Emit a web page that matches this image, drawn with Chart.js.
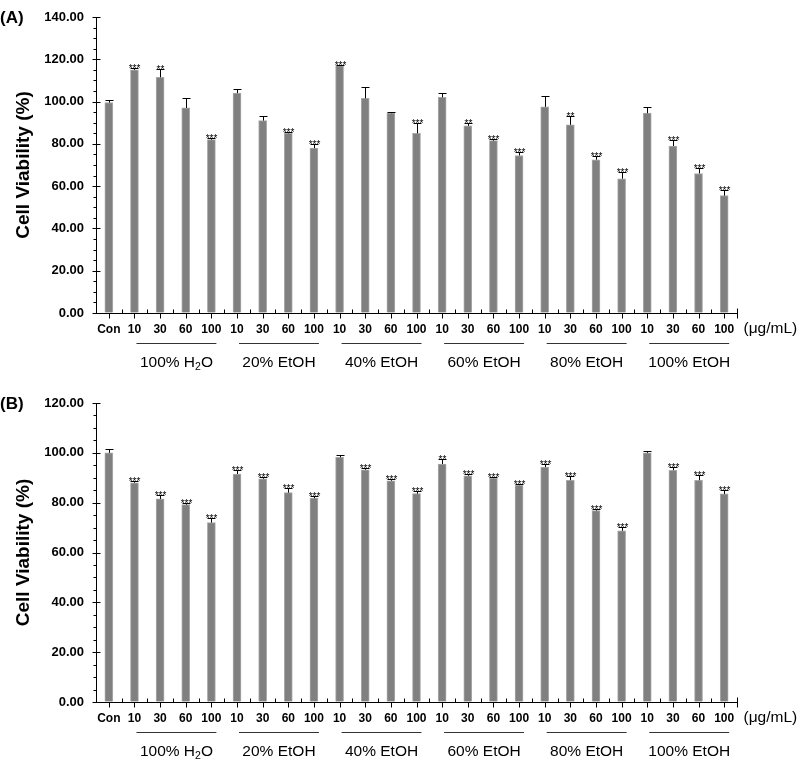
<!DOCTYPE html>
<html>
<head>
<meta charset="utf-8">
<script src="https://cdn.jsdelivr.net/npm/chart.js@4.4.1/dist/chart.umd.min.js"></script>
<style>
  html, body { margin: 0; padding: 0; background: #fff; }
  #wrap { position: relative; width: 800px; height: 764px; }
  canvas { position: absolute; left: 0; }
  #cA { top: 0; }
  #cB { top: 390px; }
</style>
</head>
<body>
<div id="wrap">
  <canvas id="cA" width="800" height="390"></canvas>
  <canvas id="cB" width="800" height="374"></canvas>
</div>
<script>
// ---------------- DATA ----------------
const doseLabels = ["Con",
  "10","30","60","100",
  "10","30","60","100",
  "10","30","60","100",
  "10","30","60","100",
  "10","30","60","100",
  "10","30","60","100"];
const groupNames = ["100% H2O", "20% EtOH", "40% EtOH", "60% EtOH", "80% EtOH", "100% EtOH"];
const groupStart = [1, 5, 9, 13, 17, 21];   // first category index of each group
const groupSize = 4;
const unitLabel = "(\u03BCg/mL)";

const valuesA = [99.5,
  115, 111.5, 97, 82,
  104, 91, 85, 78,
  117, 101.5, 94.5, 85,
  102, 88.5, 81.5, 74.5,
  97.5, 89, 72.5, 63.5,
  94.5, 79, 66, 55.5];
const errA = [1.2,
  1, 4, 4.5, 1,
  2, 2, 0.7, 2,
  0.3, 5.5, 0.8, 5,
  2, 1.5, 1, 1.5,
  5, 4, 1.7, 3,
  3, 3, 2.5, 2.5];
const sigA = ["",
  "***", "**", "", "***",
  "", "", "***", "***",
  "***", "", "", "***",
  "", "**", "***", "***",
  "", "**", "***", "***",
  "", "***", "***", "***"];

const valuesB = [100,
  88, 81.5, 79.2, 72,
  91.5, 89.6, 84, 81.8,
  98.2, 93.2, 88.8, 83.6,
  95.5, 90.8, 89.8, 87,
  94.3, 89, 76.8, 68.7,
  100, 93, 89, 83.5];
const errB = [1.6,
  0.6, 1.6, 0.7, 1.8,
  1.6, 0.6, 2, 0.8,
  1, 0.9, 0.5, 1,
  2, 0.8, 0.5, 0.3,
  1.3, 1.8, 0.7, 1.5,
  0.6, 1.5, 2, 1.5];
const sigB = ["",
  "***", "***", "***", "***",
  "***", "***", "***", "***",
  "", "***", "***", "***",
  "**", "***", "***", "***",
  "***", "***", "***", "***",
  "", "***", "***", "***"];

const yMaxA = 140, yMaxB = 120, yStep = 20, yMinorStep = 5;

// ---------------- DRAWING ----------------
const FONT = "'Liberation Sans', Arial, sans-serif";

function annotPlugin(errs, sigs, yMinor, panelLabel) {
  return {
    id: 'annot',
    afterDatasetsDraw(chart) {
      const ctx = chart.ctx;
      const y = chart.scales.y;
      const meta = chart.getDatasetMeta(0);
      const vals = chart.data.datasets[0].data;
      ctx.save();
      ctx.strokeStyle = '#000';
      ctx.fillStyle = '#000';
      ctx.lineWidth = 1;
      meta.data.forEach((bar, i) => {
        const bx = Math.round(bar.x) + 0.5;
        const top = y.getPixelForValue(vals[i]);
        const cap = Math.round(y.getPixelForValue(vals[i] + errs[i])) + 0.5;
        ctx.beginPath();
        ctx.moveTo(bx, top);
        ctx.lineTo(bx, cap);
        ctx.moveTo(bx - 4, cap);
        ctx.lineTo(bx + 4, cap);
        ctx.stroke();
        if (sigs[i]) {
          ctx.font = '10px ' + FONT;
          ctx.textAlign = 'center';
          ctx.textBaseline = 'alphabetic';
          ctx.fillText(sigs[i], bx, cap + 3);
        }
      });
      ctx.restore();
    },
    afterDraw(chart) {
      const ctx = chart.ctx;
      const x = chart.scales.x, y = chart.scales.y;
      const area = chart.chartArea;
      const L = Math.round(area.left) + 0.5;
      const B = Math.round(area.bottom) + 0.5;
      const T = Math.round(area.top);
      const R = Math.round(area.right) + 0.5;
      ctx.save();
      ctx.strokeStyle = '#000';
      ctx.lineWidth = 1;
      ctx.beginPath();
      ctx.moveTo(L, T);
      ctx.lineTo(L, B);
      ctx.moveTo(L, B);
      ctx.lineTo(R, B);
      for (let v = 0; v <= y.max + 0.001; v += yMinor) {
        const py = Math.round(y.getPixelForValue(v)) + 0.5;
        if (Math.abs(v % yStep) < 0.001) {
          ctx.moveTo(L - 4, py); ctx.lineTo(L + 4, py);
        } else {
          ctx.moveTo(L - 3, py); ctx.lineTo(L, py);
        }
      }
      const n = chart.data.labels.length;
      for (let i = 0; i < n; i++) {
        const px = Math.round(x.getPixelForValue(i)) + 0.5;
        ctx.moveTo(px, B); ctx.lineTo(px, B + 5);
        if (i > 0) {
          const pm = Math.round((x.getPixelForValue(i) + x.getPixelForValue(i - 1)) / 2) + 0.5;
          ctx.moveTo(pm, B); ctx.lineTo(pm, B - 4);
        }
      }
      ctx.moveTo(R, B - 5); ctx.lineTo(R, B + 5);
      ctx.stroke();

      ctx.lineWidth = 1;
      ctx.strokeStyle = '#333';
      const lineY = B + 30;
      groupStart.forEach((s, g) => {
        const x1 = x.getPixelForValue(s) + 2;
        const x2 = x.getPixelForValue(s + groupSize - 1) + 5;
        ctx.beginPath();
        ctx.moveTo(x1, lineY);
        ctx.lineTo(x2, lineY);
        ctx.stroke();
        const cx = (x1 + x2) / 2;
        const ty = B + 49;
        ctx.fillStyle = '#000';
        ctx.textBaseline = 'middle';
        const name = groupNames[g];
        const m = name.match(/^(.*H)2(O)$/);
        if (m) {
          ctx.font = '15.5px ' + FONT;
          const w1 = ctx.measureText(m[1]).width;
          const w3 = ctx.measureText(m[2]).width;
          ctx.font = '10.5px ' + FONT;
          const w2 = ctx.measureText('2').width;
          const start = cx - (w1 + w2 + w3) / 2;
          ctx.textAlign = 'left';
          ctx.font = '15.5px ' + FONT;
          ctx.fillText(m[1], start, ty);
          ctx.font = '10.5px ' + FONT;
          ctx.fillText('2', start + w1, ty + 5);
          ctx.font = '15.5px ' + FONT;
          ctx.fillText(m[2], start + w1 + w2, ty);
        } else {
          ctx.font = '15.5px ' + FONT;
          ctx.textAlign = 'center';
          ctx.fillText(name, cx, ty);
        }
      });
      ctx.font = '15.5px ' + FONT;
      ctx.textAlign = 'left';
      ctx.textBaseline = 'middle';
      ctx.fillStyle = '#000';
      ctx.fillText(unitLabel, R + 6, B + 15);
      ctx.font = 'bold 17px ' + FONT;
      ctx.textBaseline = 'middle';
      ctx.fillText(panelLabel, 0, T + 1);
      ctx.restore();
    }
  };
}

function makeChart(id, values, errs, sigs, yMax, topPad, xHeight, panelLabel) {
  return new Chart(document.getElementById(id), {
    type: 'bar',
    data: {
      labels: doseLabels,
      datasets: [{
        data: values,
        backgroundColor: '#808080',
        borderColor: '#a9a9a9',
        borderWidth: 1,
        barThickness: 8
      }]
    },
    options: {
      responsive: false,
      animation: false,
      devicePixelRatio: 1,
      layout: { padding: { left: 0, right: 63, top: topPad, bottom: 0 } },
      plugins: { legend: { display: false }, tooltip: { enabled: false } },
      scales: {
        x: {
          grid: { display: false, drawTicks: false },
          border: { display: false },
          ticks: {
            autoSkip: false, maxRotation: 0, minRotation: 0,
            padding: 9,
            color: '#000',
            font: { family: FONT, size: 12, weight: 'bold' }
          },
          afterFit(s) { s.height = xHeight; }
        },
        y: {
          min: 0, max: yMax,
          grid: { display: true, drawOnChartArea: false, drawTicks: true, tickLength: 12, color: 'rgba(0,0,0,0)' },
          border: { display: false },
          ticks: {
            stepSize: yStep,
            padding: 0,
            color: '#000',
            font: { family: FONT, size: 13, weight: 'bold' },
            callback: v => Number(v).toFixed(2)
          },
          title: {
            display: true,
            text: 'Cell Viability (%)',
            color: '#000',
            font: { family: FONT, size: 19, weight: 'bold' },
            padding: { top: 12, bottom: 0 }
          },
          afterFit(s) { s.width = 96; }
        }
      }
    },
    plugins: [annotPlugin(errs, sigs, yMinorStep, panelLabel)]
  });
}

makeChart('cA', valuesA, errA, sigA, yMaxA, 17, 77, '(A)');
makeChart('cB', valuesB, errB, sigB, yMaxB, 13, 62, '(B)');
</script>
</body>
</html>
